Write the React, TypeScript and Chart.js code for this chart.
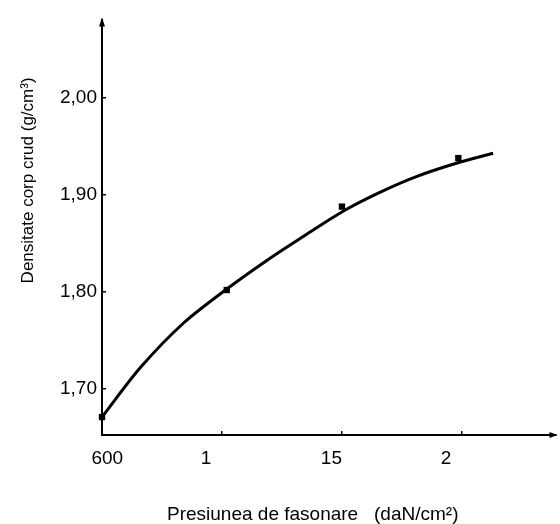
import React, { useEffect, useRef } from 'react';
import { Chart, registerables } from 'chart.js';

Chart.register(...registerables);

// ---- data ----
const xTickValues = [500, 1000, 1500, 2000];
const xTickLabels = ['600', '1', '15', '2'];
const yTickValues = [1.7, 1.8, 1.9, 2.0];

const curvePressure = [500, 660, 840, 1020, 1190, 1350, 1510, 1660, 1810, 1980, 2130];
const curveDensity = [1.671, 1.722, 1.768, 1.803, 1.833, 1.859, 1.884, 1.903, 1.919, 1.933, 1.943];

const pointPressure = [500, 1020, 1500, 1985];
const pointDensity = [1.671, 1.802, 1.888, 1.938];

const xTitle = 'Presiunea de fasonare   (daN/cm²)';
const yTitle = 'Densitate corp crud (g/cm³)';

const FONT = "'Liberation Sans', Arial, sans-serif";

const decorPlugin = {
  id: 'decor',
  afterDraw(chart: any) {
    const { ctx, chartArea } = chart;
    const { left, right, top, bottom } = chartArea;
    ctx.save();
    ctx.fillStyle = '#000';
    // axis arrowheads
    ctx.beginPath();
    ctx.moveTo(left, top - 3);
    ctx.lineTo(left - 3, top + 6);
    ctx.lineTo(left + 3, top + 6);
    ctx.closePath();
    ctx.fill();
    ctx.beginPath();
    ctx.moveTo(right + 2, bottom);
    ctx.lineTo(right - 6, bottom - 3);
    ctx.lineTo(right - 6, bottom + 3);
    ctx.closePath();
    ctx.fill();
    // axis titles
    ctx.font = `19px ${FONT}`;
    ctx.textAlign = 'left';
    ctx.textBaseline = 'alphabetic';
    ctx.fillText(xTitle, left + 65, bottom + 85);
    ctx.translate(33, top + 160);
    ctx.rotate(-Math.PI / 2);
    ctx.font = `17px ${FONT}`;
    ctx.textAlign = 'center';
    ctx.fillText(yTitle, 0, 0);
    ctx.restore();
  },
};

export default function App() {
  const ref = useRef<HTMLCanvasElement | null>(null);

  useEffect(() => {
    if (!ref.current) return;
    const chart = new Chart(ref.current, {
      type: 'scatter',
      data: {
        datasets: [
          {
            data: curvePressure.map((x, i) => ({ x, y: curveDensity[i] })),
            showLine: true,
            borderColor: '#000',
            borderWidth: 3,
            pointRadius: 0,
            tension: 0.3,
            fill: false,
          },
          {
            data: pointPressure.map((x, i) => ({ x, y: pointDensity[i] })),
            showLine: false,
            pointStyle: 'rect',
            pointRadius: 4.5,
            backgroundColor: '#000',
            borderColor: '#000',
            borderWidth: 0,
          },
        ],
      },
      plugins: [decorPlugin],
      options: {
        animation: false,
        responsive: false,
        clip: false,
        layout: { padding: { top: 15, right: 4, left: 0, bottom: 0 } },
        plugins: { legend: { display: false }, tooltip: { enabled: false } },
        scales: {
          x: {
            type: 'linear',
            min: 500,
            max: 2390,
            afterFit: (s: any) => {
              s.height = 89;
            },
            afterBuildTicks: (s: any) => {
              s.ticks = xTickValues.map((v) => ({ value: v }));
            },
            border: { display: true, color: '#000', width: 2 },
            grid: {
              drawOnChartArea: false,
              drawTicks: true,
              tickLength: -4,
              color: '#000',
              lineWidth: 1.5,
            },
            ticks: {
              color: '#000',
              font: { family: FONT, size: 19 },
              padding: 16,
              maxRotation: 0,
              autoSkip: false,
              callback: (_v: any, i: number) => {
                const lab = xTickLabels[i] ?? '';
                if (i === 0) return '  ' + lab;
                return lab + '  '.repeat(Math.max(0, 4 - lab.length));
              },
            },
          },
          y: {
            type: 'linear',
            min: 1.6525,
            max: 2.08,
            afterFit: (s: any) => {
              s.width = 102;
            },
            afterBuildTicks: (s: any) => {
              s.ticks = yTickValues.map((v) => ({ value: v }));
            },
            border: { display: true, color: '#000', width: 2 },
            grid: {
              drawOnChartArea: false,
              drawTicks: true,
              tickLength: -4,
              color: '#000',
              lineWidth: 1.5,
            },
            ticks: {
              color: '#000',
              font: { family: FONT, size: 19 },
              padding: 9,
              callback: (v: any) => Number(v).toFixed(2).replace('.', ','),
            },
          },
        },
      } as any,
    });
    return () => chart.destroy();
  }, []);

  return (
    <div style={{ position: 'fixed', left: 0, top: 0, width: 560, height: 524, background: '#fff' }}>
      <canvas ref={ref} width={560} height={524} style={{ width: 560, height: 524, display: 'block' }} />
    </div>
  );
}
